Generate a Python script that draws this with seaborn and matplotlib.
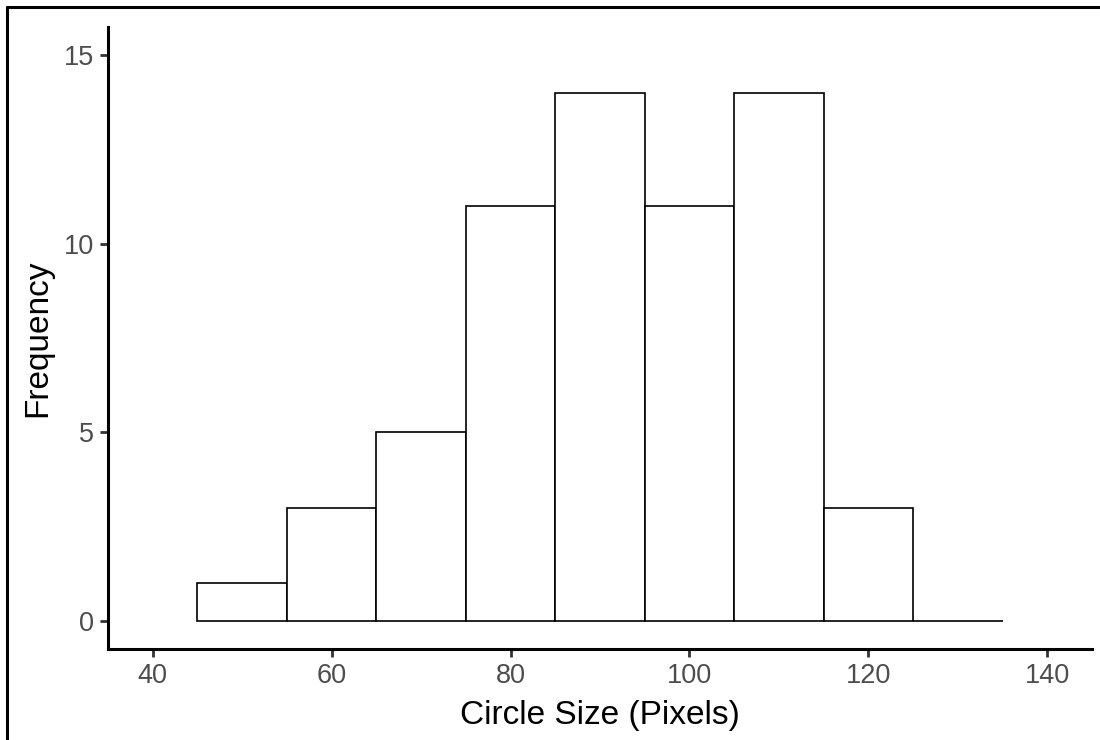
import numpy as np
import pandas as pd
import matplotlib
matplotlib.use("Agg")
import matplotlib.pyplot as plt
from matplotlib.lines import Line2D
import seaborn as sns

# Histogram of circle sizes: bin edges (pixels) and counts per bin
bin_edges = [45, 55, 65, 75, 85, 95, 105, 115, 125, 135]
bin_counts = [1, 3, 5, 11, 14, 11, 14, 3, 0]
x_ticks = [40, 60, 80, 100, 120, 140]
y_ticks = [0, 5, 10, 15]

centers = [(a + b) / 2 for a, b in zip(bin_edges[:-1], bin_edges[1:])]
df = pd.DataFrame({"size": centers, "count": bin_counts})

sns.set_theme(style="ticks")
plt.rcParams["font.family"] = ["Liberation Sans", "DejaVu Sans"]

fig = plt.figure(figsize=(11, 7.4), dpi=100)
ax = fig.add_axes([0.0982, 0.123, 0.8945, 0.8405])

sns.histplot(data=df, x="size", weights="count", bins=bin_edges,
             color="white", edgecolor="black", linewidth=1.2, alpha=1,
             ax=ax)

ax.set_xlim(35, 145)
ax.set_ylim(-0.75, 15.75)
ax.set_xticks(x_ticks)
ax.set_yticks(y_ticks)
ax.set_xlabel("Circle Size (Pixels)", fontsize=24, color="black", labelpad=8)
ax.set_ylabel("Frequency", fontsize=24, color="black", labelpad=8)
ax.tick_params(axis="both", labelsize=19.5, labelcolor="#4D4D4D",
               color="#333333", width=2, length=6, pad=4)

for side in ("top", "right"):
    ax.spines[side].set_visible(False)
for side in ("left", "bottom"):
    ax.spines[side].set_linewidth(2.2)
    ax.spines[side].set_color("black")

# outer frame along the top and left edges of the figure
fig.add_artist(Line2D([0.0065, 1.0], [0.99, 0.99], transform=fig.transFigure,
                      color="black", linewidth=2.2))
fig.add_artist(Line2D([0.0065, 0.0065], [0.0, 0.99], transform=fig.transFigure,
                      color="black", linewidth=2.2))

fig.savefig("out.png", dpi=100)
